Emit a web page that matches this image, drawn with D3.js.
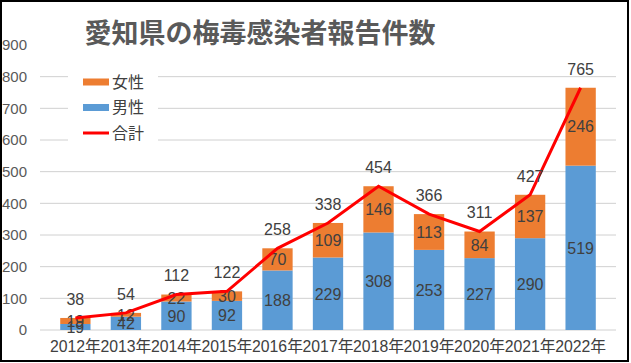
<!DOCTYPE html>
<html>
<head>
<meta charset="utf-8">
<script src="https://cdn.jsdelivr.net/npm/d3@7"></script>
<style>
  body { margin: 0; background: #fff; }
  text { font-family: "Liberation Sans", "Noto Sans CJK JP", sans-serif; }
</style>
</head>
<body>
<svg width="631" height="363"></svg>
<script>
var years = ["2012年", "2013年", "2014年", "2015年", "2016年", "2017年", "2018年", "2019年", "2020年", "2021年", "2022年"];
var male = [19, 42, 90, 92, 188, 229, 308, 253, 227, 290, 519];
var female = [19, 12, 22, 30, 70, 109, 146, 113, 84, 137, 246];
var total = [38, 54, 112, 122, 258, 338, 454, 366, 311, 427, 765];
var yTicks = [0, 100, 200, 300, 400, 500, 600, 700, 800, 900];

var svg = d3.select("svg"),
    margin = {top: 45, right: 15, bottom: 33, left: 40},
    width = +svg.attr("width") - margin.left - margin.right,
    height = +svg.attr("height") - margin.top - margin.bottom;

var x = d3.scaleBand().domain(years).range([margin.left, margin.left + width]).padding(0.4),
    y = d3.scaleLinear().domain([0, 900]).range([margin.top + height, margin.top]);

var colours = {female: "#ED7D31", male: "#5B9BD5", total: "#FF0000"};

// gridlines (no line at the top tick)
svg.append("g")
    .selectAll("line")
    .data(yTicks.filter(function(d) { return d < 900; }))
  .enter().append("line")
    .attr("x1", margin.left)
    .attr("x2", margin.left + width)
    .attr("y1", function(d) { return y(d); })
    .attr("y2", function(d) { return y(d); })
    .attr("stroke", "#D0D0D0")
    .attr("stroke-width", 1);

// y axis labels
var yAxis = svg.append("g")
    .attr("transform", "translate(27,0)")
    .call(d3.axisLeft(y).tickValues(yTicks).tickSize(0).tickPadding(0));
yAxis.select(".domain").remove();
yAxis.selectAll("text")
    .attr("fill", "#595959")
    .style("font-size", "15px");

// x axis labels
var xAxis = svg.append("g")
    .attr("transform", "translate(0," + (margin.top + height) + ")")
    .call(d3.axisBottom(x).tickSize(0).tickPadding(11));
xAxis.select(".domain").remove();
xAxis.selectAll("text")
    .attr("fill", "#404040")
    .style("font-size", "15.8px");

// stacked bars
var bars = svg.append("g");
bars.selectAll(".male")
    .data(years)
  .enter().append("rect")
    .attr("x", function(d) { return x(d); })
    .attr("y", function(d, i) { return y(male[i]); })
    .attr("width", x.bandwidth())
    .attr("height", function(d, i) { return y(0) - y(male[i]); })
    .attr("fill", colours.male);
bars.selectAll(".female")
    .data(years)
  .enter().append("rect")
    .attr("x", function(d) { return x(d); })
    .attr("y", function(d, i) { return y(male[i] + female[i]); })
    .attr("width", x.bandwidth())
    .attr("height", function(d, i) { return y(male[i]) - y(male[i] + female[i]); })
    .attr("fill", colours.female);

// segment labels
var cx = function(d) { return x(d) + x.bandwidth() / 2; };
svg.append("g").selectAll("text")
    .data(years)
  .enter().append("text")
    .attr("x", cx)
    .attr("y", function(d, i) { return y(male[i] / 2); })
    .attr("dy", "0.36em")
    .attr("text-anchor", "middle")
    .attr("fill", "#404040")
    .style("font-size", "16px")
    .text(function(d, i) { return male[i]; });
svg.append("g").selectAll("text")
    .data(years)
  .enter().append("text")
    .attr("x", cx)
    .attr("y", function(d, i) { return y(male[i] + female[i] / 2); })
    .attr("dy", "0.36em")
    .attr("text-anchor", "middle")
    .attr("fill", "#404040")
    .style("font-size", "16px")
    .text(function(d, i) { return female[i]; });

// total line
var line = d3.line()
    .x(function(d, i) { return cx(years[i]); })
    .y(function(d) { return y(d); });
svg.append("path")
    .datum(total)
    .attr("d", line)
    .attr("fill", "none")
    .attr("stroke", colours.total)
    .attr("stroke-width", 3);

svg.append("g").selectAll("text")
    .data(total)
  .enter().append("text")
    .attr("x", function(d, i) { return cx(years[i]); })
    .attr("y", function(d) { return y(d) - 19; })
    .attr("dy", "0.36em")
    .attr("text-anchor", "middle")
    .attr("fill", "#404040")
    .style("font-size", "16px")
    .text(function(d) { return d; });

// legend
var legend = svg.append("g").attr("transform", "translate(68,62)");
legend.append("rect")
    .attr("width", 90).attr("height", 86)
    .attr("fill", "#fff");
var items = [
    {label: "女性", colour: colours.female, type: "bar"},
    {label: "男性", colour: colours.male, type: "bar"},
    {label: "合計", colour: colours.total, type: "line"}
];
items.forEach(function(it, i) {
    var yy = 20 + i * 25.5;
    if (it.type === "bar") {
        legend.append("rect").attr("x", 15).attr("y", yy - 3.5)
            .attr("width", 26).attr("height", 7).attr("fill", it.colour);
    } else {
        legend.append("line").attr("x1", 15).attr("x2", 41)
            .attr("y1", yy).attr("y2", yy)
            .attr("stroke", it.colour).attr("stroke-width", 3);
    }
    legend.append("text")
        .attr("x", 44).attr("y", yy).attr("dy", "0.36em")
        .attr("fill", "#404040")
        .style("font-size", "16px")
        .style("font-family", "'Noto Sans CJK JP', sans-serif")
        .text(it.label);
});

// title
svg.append("text")
    .attr("x", 260)
    .attr("y", 33)
    .attr("dy", "0.36em")
    .attr("text-anchor", "middle")
    .attr("fill", "#595959")
    .style("font-size", "27px")
    .style("font-weight", "bold")
    .style("font-family", "'Noto Sans CJK JP', sans-serif")
    .text("愛知県の梅毒感染者報告件数");

// outer border
svg.append("rect")
    .attr("x", 1).attr("y", 1)
    .attr("width", 627).attr("height", 360)
    .attr("fill", "none")
    .attr("stroke", "#000")
    .attr("stroke-width", 2);
</script>
</body>
</html>
